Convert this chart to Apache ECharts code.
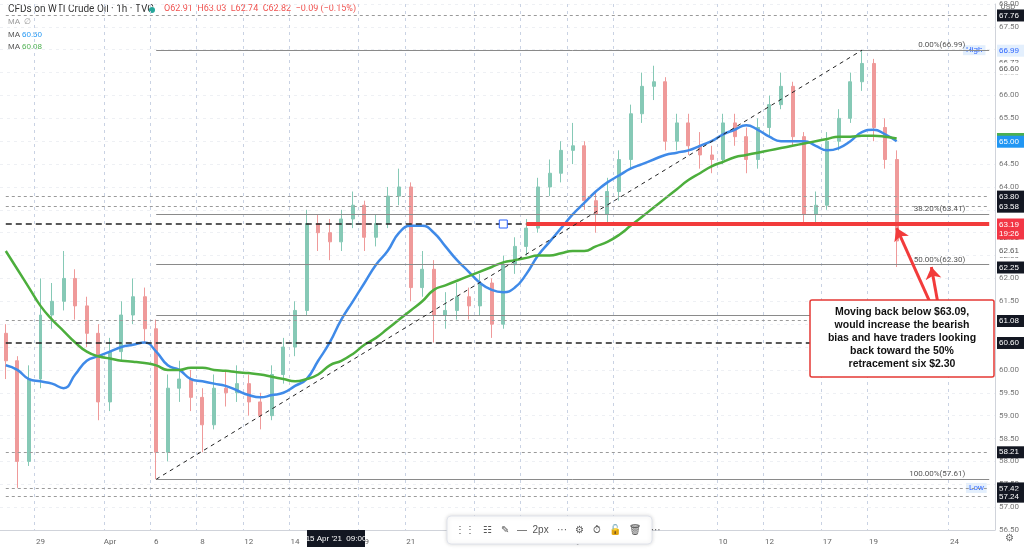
<!DOCTYPE html>
<html><head><meta charset="utf-8">
<script src="https://cdn.jsdelivr.net/npm/echarts@6/dist/echarts.min.js"></script>
<style>html,body{margin:0;padding:0;background:#fff}#c{width:1024px;height:552px}</style>
</head><body><div id="c"></div>
<script>
const closes=[60.2,58.0,59.8,61.2,61.5,62.0,61.4,60.8,59.3,60.4,61.2,61.6,60.9,58.2,59.6,59.8,59.4,58.8,59.6,59.5,59.7,59.3,59.0,59.9,60.5,61.3,63.2,63.0,62.8,63.3,63.6,62.9,63.2,63.8,64.0,61.8,62.2,61.2,61.3,61.6,61.4,61.9,61.0,62.3,62.7,63.1,64.0,64.3,64.8,64.9,63.7,63.4,63.9,64.6,65.6,66.2,66.3,65.0,65.4,64.9,64.7,64.6,65.4,65.1,64.6,65.3,65.8,66.2,65.1,63.4,63.6,65.0,65.5,66.3,66.7,65.3,64.6,62.82];
const firstOpen=60.8;
const highs=[61.0,60.3,60.1,62.0,61.9,62.6,62.2,61.6,61.0,60.7,61.5,62.0,61.8,61.1,59.9,60.2,60.0,59.6,59.9,60.0,60.1,59.9,59.5,60.1,60.7,61.5,63.5,63.4,63.3,63.5,63.9,63.7,63.4,64.0,64.4,64.1,62.6,62.4,61.7,61.9,61.8,62.1,62.0,62.5,62.9,63.3,64.2,64.6,65.0,65.4,65.0,63.9,64.2,64.8,65.8,66.5,66.65,66.4,65.6,65.6,65.2,64.9,65.6,65.6,65.3,65.5,66.0,66.5,66.3,65.2,63.9,65.2,65.7,66.5,66.99,66.8,65.5,64.8];
const lows=[59.8,57.42,57.9,59.6,60.9,61.3,61.1,60.5,58.9,59.1,60.2,61.0,60.6,57.61,58.0,59.3,59.1,58.2,58.7,59.2,59.3,59.0,58.7,58.9,59.7,60.3,61.2,62.6,62.4,62.6,63.1,62.6,62.7,63.1,63.6,61.5,61.6,60.6,60.9,61.1,61.1,61.2,60.7,60.9,62.1,62.5,63.0,63.8,64.1,64.5,63.5,63.0,63.2,63.7,64.4,65.4,65.9,64.8,64.8,64.7,64.4,64.3,64.5,64.9,64.3,64.4,65.1,65.7,64.9,63.17,63.2,63.5,64.8,65.4,66.1,65.0,64.4,62.25];
const maBlue=[60.1,60.0,59.8,59.75,59.7,59.6,59.9,60.2,60.3,60.4,60.5,60.55,60.6,60.4,60.1,60.0,59.8,59.75,59.7,59.65,59.55,59.45,59.4,59.45,59.5,59.65,59.8,60.2,60.6,61.1,61.5,61.9,62.3,62.6,63.0,63.15,63.15,63.0,62.7,62.4,62.15,61.9,61.75,61.7,61.8,62.1,62.5,62.8,63.1,63.4,63.65,63.9,64.1,64.25,64.4,64.5,64.6,64.7,64.75,64.8,64.9,65.0,65.15,65.25,65.35,65.25,65.1,65.0,65.0,65.0,64.9,64.8,64.85,65.0,65.2,65.25,65.15,65.0];
const maGreen=[62.6,62.2,61.8,61.4,61.1,60.85,60.6,60.4,60.3,60.25,60.2,60.18,60.15,60.1,60.0,60.0,60.05,60.05,60.0,59.98,59.95,59.93,59.9,59.85,59.8,59.75,59.8,59.9,60.1,60.2,60.35,60.55,60.7,60.9,61.1,61.3,61.5,61.75,61.85,61.95,62.05,62.15,62.25,62.35,62.4,62.45,62.5,62.5,62.55,62.6,62.6,62.7,62.8,62.95,63.15,63.35,63.55,63.75,63.95,64.15,64.3,64.45,64.55,64.65,64.7,64.75,64.8,64.85,64.9,64.95,65.0,65.05,65.1,65.1,65.12,65.12,65.1,65.06];
const tickLabels={3:'29',9:'Apr',13:'6',17:'8',21:'12',25:'14',31:'19',35:'21',41:'26',45:'28',49:'May',53:'5',62:'10',66:'12',71:'17',75:'19',82:'24'};
const nCats=86;
const fibLevels=[[66.99,'0.00%(66.99)'],[63.41,'38.20%(63.41)'],[62.30,'50.00%(62.30)'],[61.19,'61.80%(61.19)'],[57.61,'100.00%(57.61)']];
const dashedLevels=[67.76,63.80,63.58,61.08,58.21,57.42,57.24];
const blackTags=[67.76,63.80,63.58,63.09,62.25,61.08,60.60,58.21,57.42,57.24];
const plainTags=[66.73,66.60,63.06,62.91,62.61];
const keyLevel=63.19, supportLevel=60.60;
const fibStart=13, trendEnd=74;

const cats=[];for(let i=0;i<nCats;i++)cats.push(tickLabels[i]||('c'+i));
const ohlc=closes.map((c,i)=>[i===0?firstOpen:closes[i-1],c,lows[i],highs[i]]);
const lastCat=cats[nCats-1];
const ml=[];
fibLevels.forEach(f=>ml.push([{coord:[cats[fibStart],f[0]],lineStyle:{color:'#8a8a8a',width:1,type:'solid'},label:{show:true,position:'insideEndTop',formatter:f[1],color:'#555',fontSize:8,distance:[24,1]}},{coord:[lastCat,f[0]]}]));
dashedLevels.forEach(v=>ml.push([{coord:[cats[0],v],lineStyle:{color:'#9a9a9a',width:1,type:[3,3]},label:{show:false}},{coord:[lastCat,v]}]));
ml.push([{coord:[cats[0],keyLevel],lineStyle:{color:'#222',width:1.5,type:[6,4]},label:{show:false}},{coord:[cats[45],keyLevel]}]);
ml.push([{coord:[cats[0],supportLevel],lineStyle:{color:'#222',width:1.5,type:[6,4]},label:{show:false}},{coord:[lastCat,supportLevel]}]);
ml.push([{coord:[cats[45],keyLevel],lineStyle:{color:'#f23b3b',width:4,type:'solid'},label:{show:false}},{coord:[lastCat,keyLevel]}]);
ml.push([{coord:[cats[fibStart],57.61],lineStyle:{color:'#222',width:1,type:[4,4]},label:{show:false}},{coord:[cats[trendEnd],66.99]}]);
const arrows=[
 [{coord:[cats[81],60.85],symbol:'none',lineStyle:{color:'#f23b3b',width:3,type:'solid'},label:{show:false}},{coord:[cats[77],63.1],symbol:'arrow',symbolSize:12}],
 [{coord:[cats[81],60.85],symbol:'none',lineStyle:{color:'#f23b3b',width:3,type:'solid'},label:{show:false}},{coord:[cats[80],62.25],symbol:'arrow',symbolSize:12}]
];

const chart=echarts.init(document.getElementById('c'));
const staticGraphic=[
  {type:'text',left:8,top:4,style:{text:'CFDs on WTI Crude Oil · 1h · TVC',fill:'#333',fontSize:10,fontFamily:'Roboto'}},
  {type:'circle',shape:{cx:152,cy:10,r:3},style:{fill:'#26a69a'}},
  {type:'text',left:164,top:4,style:{text:'O62.91  H63.03  L62.74  C62.82  −0.09 (−0.15%)',fill:'#ef5350',fontSize:9,fontFamily:'Roboto'}},
  {type:'text',left:8,top:18,style:{text:'MA  ∅',fill:'#999',fontSize:8}},
  {type:'text',left:8,top:31,style:{text:'MA',fill:'#555',fontSize:8}},
  {type:'text',left:22,top:31,style:{text:'60.50',fill:'#2196f3',fontSize:8}},
  {type:'text',left:8,top:43,style:{text:'MA',fill:'#555',fontSize:8}},
  {type:'text',left:22,top:43,style:{text:'60.08',fill:'#4caf50',fontSize:8}},
  {type:'rect',shape:{x:810,y:300,width:184,height:77,r:2},style:{fill:'#fff',stroke:'#e53935',lineWidth:1.5},z:10},
  {type:'text',x:902,y:338,z:11,style:{text:'Moving back below $63.09,\nwould increase the bearish\nbias and have traders looking\nback toward the 50%\nretracement six $2.30',fill:'#111',fontSize:10.5,fontWeight:'bold',align:'center',verticalAlign:'middle',lineHeight:13,fontFamily:'Liberation Sans'}},
  {type:'rect',shape:{x:307,y:530,width:58,height:17},style:{fill:'#131722'},z:10},
  {type:'text',x:336,y:538.5,z:11,style:{text:"15 Apr '21  09:00",fill:'#fff',fontSize:8,align:'center',verticalAlign:'middle'}},
  {type:'rect',shape:{x:447,y:516,width:205,height:28,r:4},style:{fill:'#fff',stroke:'#e0e3eb',shadowBlur:4,shadowColor:'rgba(0,0,0,0.15)'},z:10},
  {type:'text',x:455,y:530,z:11,style:{text:'⋮⋮   ☷   ✎   —  2px   ···   ⚙   ⏱   🔓   🗑   ···',fill:'#555',fontSize:10,verticalAlign:'middle'}},
  {type:'text',x:1008,y:4,style:{text:'USD',fill:'#666',fontSize:7,align:'center'}},
  {type:'text',x:1009,y:538,style:{text:'⚙',fill:'#666',fontSize:10,align:'center',verticalAlign:'middle'}}
];
chart.setOption({
 animation:false,
 textStyle:{fontFamily:'Roboto'},
 grid:{left:0,right:29,top:1,bottom:22},
 xAxis:{type:'category',data:cats,boundaryGap:true,
  axisLine:{lineStyle:{color:'#d0d3da'}},axisTick:{show:false},
  axisLabel:{interval:0,color:'#666',fontSize:8,formatter:v=>v[0]==='c'?'':v},
  splitLine:{show:true,interval:(i)=>!!tickLabels[i],lineStyle:{color:'#c9d2e3',type:[3,4]}}},
 yAxis:{type:'value',position:'right',min:56.5,max:68,interval:0.5,
  axisLine:{show:true,lineStyle:{color:'#d0d3da'}},axisTick:{show:false},
  axisLabel:{color:'#777',fontSize:8,margin:4,formatter:v=>v.toFixed(2)},
  splitLine:{show:true,lineStyle:{color:'#eef0f4',type:[3,4]}}},
 series:[
  {type:'candlestick',data:ohlc,barWidth:'30%',
   itemStyle:{color:'#86c9b6',color0:'#ef9a9a',borderColor:'#86c9b6',borderColor0:'#ef9a9a'},
   markLine:{silent:true,symbol:'none',data:ml},
   markPoint:{symbol:'rect',symbolSize:8,data:[{coord:[cats[43],keyLevel],itemStyle:{color:'#fff',borderColor:'#2962ff',borderWidth:1}}],label:{show:false}}},
  {type:'line',data:maBlue,showSymbol:false,smooth:true,lineStyle:{color:'#3f8ae8',width:2.5},z:3},
  {type:'line',data:maGreen,showSymbol:false,smooth:true,lineStyle:{color:'#4cae3c',width:2.5},z:3,
   markLine:{silent:true,data:arrows}}
 ],
 graphic:staticGraphic
});
// price tags on the right axis, positioned through the axis scale
const tagList=[];
blackTags.forEach(v=>tagList.push([v,'#131722','#fff',v.toFixed(2)]));
plainTags.forEach(v=>tagList.push([v,'#fff','#555',v.toFixed(2)]));
tagList.push([66.99,'#e3effd','#2962ff','66.99']);
tagList.push([65.06,'#4caf50','#fff','65.06']);
tagList.push([65.00,'#2196f3','#fff','65.00']);
tagList.push([keyLevel,'#f23645','#fff','63.19\n19:26']);
const tagGraphic=tagList.map(t=>{
  const y=chart.convertToPixel({yAxisIndex:0},t[0]);
  const two=t[3].indexOf('\n')>=0;
  return {type:'text',x:997,y:y-5.5,z:20,style:{text:t[3],fill:t[2],fontSize:8,backgroundColor:t[1],padding:[1.5,2],lineHeight:9,width:23}};
});
tagGraphic.push({type:'text',x:963,y:chart.convertToPixel({yAxisIndex:0},66.99)-5,style:{text:'High',fill:'#2962ff',fontSize:8,backgroundColor:'#e3effd',padding:[1,3]}});
tagGraphic.push({type:'text',x:966,y:chart.convertToPixel({yAxisIndex:0},57.42)-5,style:{text:'Low',fill:'#2962ff',fontSize:8,backgroundColor:'#e3effd',padding:[1,3]}});
chart.setOption({graphic:staticGraphic.concat(tagGraphic)});
</script></body></html>
